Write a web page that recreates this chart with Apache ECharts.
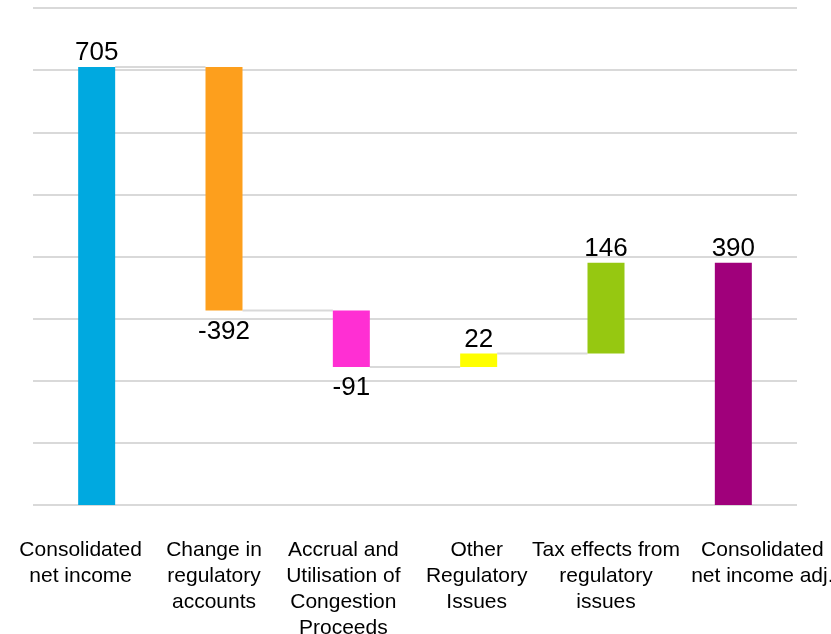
<!DOCTYPE html>
<html>
<head>
<meta charset="utf-8">
<script src="https://cdn.jsdelivr.net/npm/echarts@6/dist/echarts.min.js"></script>
<style>
  html, body { margin: 0; padding: 0; background: #ffffff; }
  #chart { width: 831px; height: 634px; }
</style>
</head>
<body>
<div id="chart"></div>
<script>
// Bridge from consolidated net income to adjusted net income
const categories = [
  'Consolidated\nnet income',
  'Change in\nregulatory\naccounts',
  'Accrual and\nUtilisation of\nCongestion\nProceeds',
  'Other\nRegulatory\nIssues',
  'Tax effects from\nregulatory\nissues',
  'Consolidated\nnet income adj.'
];
const changes = [705, -392, -91, 22, 146, 390];
const isTotal = [true, false, false, false, false, true];
const barColors = ['#00a9e0', '#fd9f1d', '#ff2fd3', '#ffff00', '#96c811', '#a0007b'];

// horizontal nudges of the category captions (px)
const captionShift = [-16, -10, -8, -2, 0, 29];

// floating bars: invisible base + visible step
const baseVals = [];
const stepVals = [];
const levels = [];
let running = 0;
changes.forEach((v, i) => {
  if (isTotal[i]) {
    baseVals.push(0);
    stepVals.push(v);
    running = v;
  } else {
    const end = running + v;
    baseVals.push(Math.min(running, end));
    stepVals.push(Math.abs(v));
    running = end;
  }
  levels.push(running);
});

// connector lines between consecutive bars (not into a total bar)
const connectors = [];
for (let i = 0; i < changes.length - 1; i++) {
  if (!isTotal[i + 1]) connectors.push([i, levels[i]]);
}

const BAR_W = 37;
const FONT = '"Liberation Sans", Arial, sans-serif';

const chart = echarts.init(document.getElementById('chart'));
chart.setOption({
  animation: false,
  backgroundColor: '#ffffff',
  grid: { left: 33, right: 34, top: 8, bottom: 129, containLabel: false, outerBoundsMode: 'none' },
  xAxis: {
    type: 'category',
    data: categories.map((c, i) => ({
      value: c,
      textStyle: {
        padding: captionShift[i] >= 0 ? [0, 0, 0, 2 * captionShift[i]] : [0, -2 * captionShift[i], 0, 0]
      }
    })),
    axisLine: { show: false },
    axisTick: { show: false },
    axisLabel: {
      interval: 0,
      margin: 32,
      color: '#000000',
      fontFamily: FONT,
      fontSize: 21,
      lineHeight: 26,
      align: 'center',
      verticalAlign: 'top',
      hideOverlap: false
    }
  },
  yAxis: {
    type: 'value',
    min: 0,
    max: 800,
    interval: 100,
    axisLabel: { show: false },
    axisLine: { show: false },
    axisTick: { show: false },
    splitLine: { lineStyle: { color: '#d9d9d9', width: 2 } }
  },
  series: [
    {
      type: 'bar',
      stack: 'wf',
      barWidth: BAR_W,
      itemStyle: { color: 'transparent' },
      emphasis: { disabled: true },
      silent: true,
      data: baseVals
    },
    {
      type: 'bar',
      stack: 'wf',
      barWidth: BAR_W,
      data: stepVals.map((v, i) => ({
        value: v,
        itemStyle: { color: barColors[i] },
        label: {
          show: true,
          position: changes[i] >= 0 ? 'top' : 'bottom',
          distance: changes[i] >= 0 ? 1 : 8,
          formatter: () => String(changes[i]),
          color: '#000000',
          fontFamily: FONT,
          fontSize: 26
        }
      }))
    },
    {
      type: 'custom',
      silent: true,
      z: 1,
      data: connectors,
      renderItem: (params, api) => {
        const p = api.coord([api.value(0), api.value(1)]);
        const band = api.size([1, 0])[0];
        return {
          type: 'line',
          shape: {
            x1: p[0] + BAR_W / 2,
            y1: p[1],
            x2: p[0] + band - BAR_W / 2,
            y2: p[1]
          },
          style: { stroke: '#d9d9d9', lineWidth: 2 }
        };
      }
    }
  ]
});
</script>
</body>
</html>
